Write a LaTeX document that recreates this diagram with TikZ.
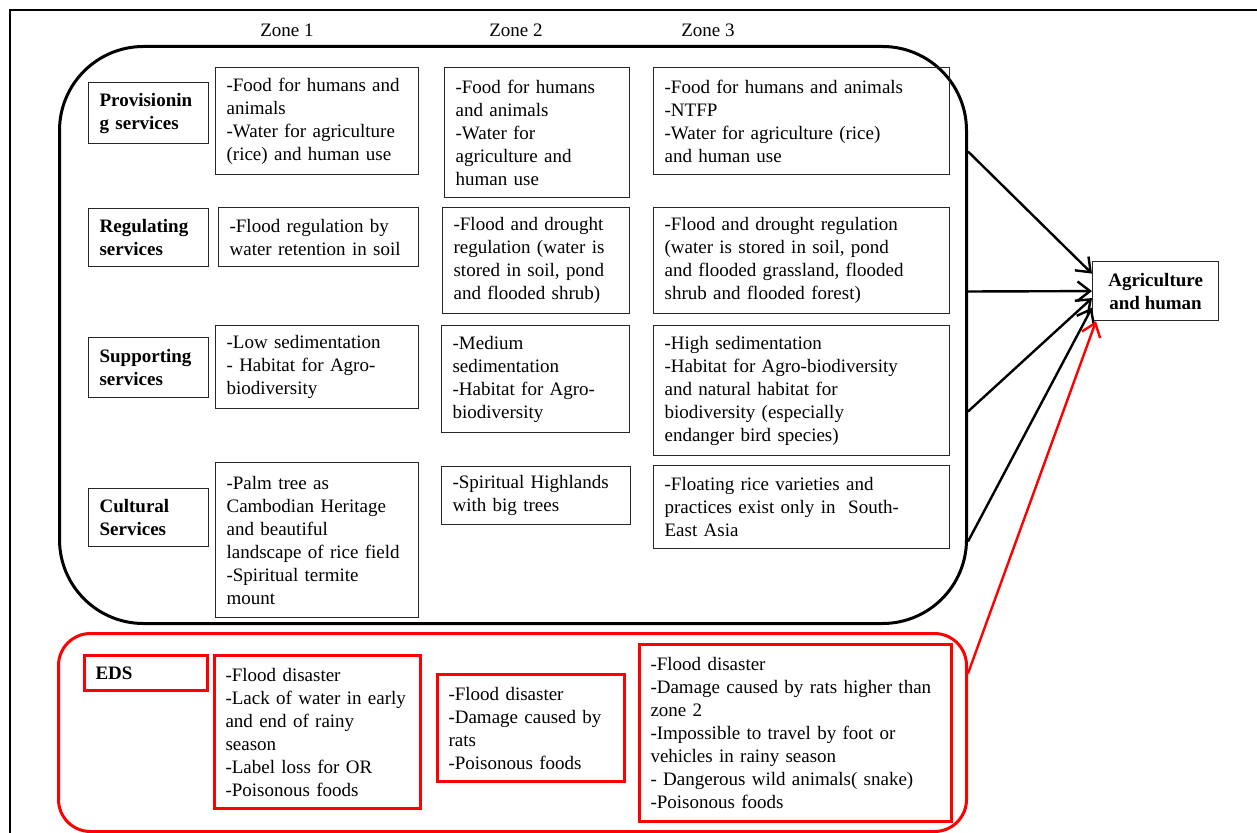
\documentclass[tikz,border=0pt]{standalone}
\usepackage{fontspec}
\setmainfont{Liberation Serif}
\usetikzlibrary{positioning,arrows.meta}
\definecolor{edsred}{HTML}{FF0000}

\begin{document}
\begin{tikzpicture}[
  x=0.5pt, y=-0.5pt,
  font=\fontsize{9.5}{11.5}\selectfont,
  >={Straight Barb[length=2.2mm,width=3.4mm]},
  svc/.style={draw=black!85, line width=0.6pt, anchor=north west, align=left,
              inner xsep=5.5pt, inner ysep=3pt, text width=49pt, font=\fontsize{9.5}{11.5}\selectfont\bfseries},
  cell/.style={draw=black!85, line width=0.6pt, anchor=north west, align=left,
               inner xsep=5.5pt, inner ysep=3pt},
  edscell/.style={cell, draw=edsred, line width=1.5pt},
  group/.style={draw, line width=1.5pt, rounded corners=42pt, anchor=north west, inner sep=0pt},
  flow/.style={->, line width=1.2pt},
  zone/.style={anchor=center},
]
\useasboundingbox (0,0) rectangle (1257,833);
\draw[line width=1pt] (10,833) -- (10,10) -- (1257,10);

% ---- group panels ----
\node[group, minimum width=453.5pt, minimum height=288.5pt] (es) at (58,45) {};
\node[group, draw=edsred, rounded corners=16pt, minimum width=454pt, minimum height=99pt] (edsg) at (57,632) {};

% ---- zone headings ----
\node[zone] (z1) at (287,30) {Zone 1};
\node[zone] (z2) at (516,30) {Zone 2};
\node[zone] (z3) at (708,30) {Zone 3};

% ---- service labels ----
\node[svc, minimum height=30.5pt] (prov) at (88,82)  {Provisionin\\g services};
\node[svc, minimum height=29pt]   (reg)  at (88,208) {Regulating\\services};
\node[svc, minimum height=30pt]   (sup)  at (88,337) {Supporting\\services};
\node[svc, minimum height=29pt]   (cul)  at (88,488) {Cultural\\Services};
\node[svc, draw=edsred, line width=1.5pt, text width=50.5pt, minimum height=17.5pt] (eds) at (83,654) {EDS};

% ---- zone 1 ----
\node[cell, text width=90.5pt, minimum height=53.5pt] (p1) at (215,67)
      {-Food for humans and\\animals\\-Water for agriculture\\(rice) and human use};
\node[cell, text width=89pt, minimum height=29.5pt] (r1) at (218,207)
      {-Flood regulation by\\water retention in soil};
\node[cell, text width=90.5pt, minimum height=41.5pt] (s1) at (215,325)
      {-Low sedimentation\\- Habitat for Agro-\\biodiversity};
\node[cell, text width=90.5pt, minimum height=77.5pt] (c1) at (215,462)
      {-Palm tree as\\Cambodian Heritage\\and beautiful\\landscape of rice field\\-Spiritual termite\\mount};
\node[edscell, text width=92pt, minimum height=76.5pt] (e1) at (213,654)
      {-Flood disaster\\-Lack of water in early\\and end of rainy\\season\\-Label loss for OR\\-Poisonous foods};

% ---- zone 2 ----
\node[cell, text width=81.5pt, minimum height=65pt] (p2) at (444,67)
      {-Food for humans\\and animals\\-Water for\\agriculture and\\human use};
\node[cell, text width=82.5pt, minimum height=53pt] (r2) at (442,207)
      {-Flood and drought\\regulation (water is\\stored in soil, pond\\and flooded shrub)};
\node[cell, text width=83pt, minimum height=53.5pt] (s2) at (441,325)
      {-Medium\\sedimentation\\-Habitat for Agro-\\biodiversity};
\node[cell, text width=83.5pt, minimum height=29pt] (c2) at (441,466)
      {-Spiritual Highlands\\with big trees};
\node[edscell, text width=82.5pt, minimum height=53.5pt] (e2) at (436,673)
      {-Flood disaster\\-Damage caused by\\rats\\-Poisonous foods};

% ---- zone 3 ----
\node[cell, text width=137pt, minimum height=53.5pt] (p3) at (653,67)
      {-Food for humans and animals\\-NTFP\\-Water for agriculture (rice)\\and human use};
\node[cell, text width=137pt, minimum height=53pt] (r3) at (653,207)
      {-Flood and drought regulation\\(water is stored in soil, pond\\and flooded grassland, flooded\\shrub and flooded forest)};
\node[cell, text width=137pt, minimum height=65pt] (s3) at (653,325)
      {-High sedimentation\\-Habitat for Agro-biodiversity\\and natural habitat for\\biodiversity (especially\\endanger bird species)};
\node[cell, text width=137pt, minimum height=41.5pt] (c3) at (653,465)
      {-Floating rice varieties and\\practices exist only in~ South-\\East Asia};
\node[edscell, text width=145pt, minimum height=88.5pt] (e3) at (638,643)
      {-Flood disaster\\-Damage caused by rats higher than\\zone 2\\-Impossible to travel by foot or\\vehicles in rainy season\\- Dangerous wild animals( snake)\\-Poisonous foods};

% ---- target ----
\node[cell, align=center, minimum width=63pt, minimum height=29.5pt, font=\fontsize{9.5}{11.5}\selectfont\bfseries] (agri) at (1092,261)
      {Agriculture\\and human};

% ---- flows into agriculture and human ----
\draw[flow] ([yshift=91.75pt]es.east) -- ([yshift=8.75pt]agri.west);
\draw[flow] ([yshift=21.75pt]es.east) -- (agri.west);
\draw[flow] ([yshift=-38.25pt]es.east) -- ([yshift=-3.5pt]agri.west);
\draw[flow] ([yshift=-103.25pt]es.east) -- ([yshift=-8.25pt]agri.west);
\draw[flow, draw=edsred] ([yshift=29.5pt]edsg.east) -- ([xshift=2pt]agri.south west);
\end{tikzpicture}
\end{document}
